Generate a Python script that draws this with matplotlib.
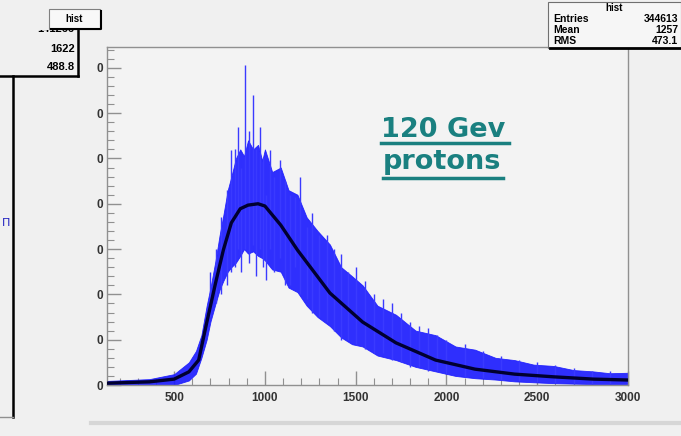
import matplotlib
matplotlib.use("Agg")
import matplotlib.pyplot as plt
from matplotlib.patches import Rectangle
from matplotlib.lines import Line2D
from matplotlib.ticker import MultipleLocator, FixedLocator, FixedFormatter

# ---- data (counts per bin, x = ADC) ----
fit_x = [130, 364, 500, 581, 635, 679, 728, 771, 815, 864, 907, 962, 1000,
         1087, 1179, 1358, 1538, 1722, 1940, 2157, 2375, 2592, 2809, 3000]
fit_y = [4, 7, 13, 29, 55, 137, 225, 298, 358, 389, 397, 400, 395,
         353, 298, 203, 139, 93, 55, 35, 24, 18, 13, 11]

band_x = [130, 364, 500, 581, 620, 650, 679, 700, 728, 750, 771, 795, 815,
          840, 864, 885, 907, 935, 962, 985, 1000, 1040, 1087, 1130, 1179,
          1230, 1290, 1358, 1420, 1480, 1538, 1620, 1722, 1830, 1940, 2050,
          2157, 2270, 2375, 2480, 2592, 2700, 2809, 2900, 3000]
band_hi = [9, 13, 24, 50, 75, 110, 175, 215, 275, 330, 375, 430, 460,
           500, 520, 505, 540, 520, 530, 495, 520, 470, 480, 430, 420,
           370, 340, 310, 260, 240, 220, 175, 155, 120, 110, 85,
           78, 60, 55, 45, 42, 33, 30, 26, 27]
band_lo = [0, 0, 0, 10, 25, 60, 100, 140, 180, 210, 230, 250, 260,
           270, 285, 300, 290, 295, 285, 280, 275, 255, 250, 215, 205,
           175, 150, 130, 105, 90, 85, 65, 55, 40, 30, 20,
           15, 12, 8, 6, 4, 3, 2, 2, 2]

spike_x  = [700, 730, 760, 790, 815, 837, 853, 870, 891, 910, 934, 950, 972,
            990, 1005, 1027, 1050, 1081, 1110, 1140, 1163, 1195, 1233, 1260,
            1300, 1340, 1380, 1420, 1460, 1500, 1550, 1600, 1650, 1700, 1750,
            1800, 1850, 1900, 1950, 2000, 2100, 2200, 2300, 2400, 2500, 2600,
            2700, 2800, 2900]
spike_lo = [150, 180, 200, 220, 250, 260, 300, 250, 300, 270, 310, 240, 300,
            260, 232, 300, 250, 280, 220, 220, 260, 200, 190, 160,
            150, 140, 120, 100, 100, 90, 80, 70, 70, 55, 50,
            40, 40, 30, 30, 25, 18, 15, 12, 8, 6, 4,
            3, 2, 2]
spike_hi = [250, 300, 370, 430, 519, 520, 570, 480, 706, 560, 640, 520, 570,
            500, 420, 519, 460, 497, 450, 420, 415, 459, 349, 380,
            330, 330, 300, 290, 250, 260, 230, 200, 190, 180, 160,
            140, 130, 125, 110, 100, 90, 75, 65, 55, 50, 45,
            38, 32, 30]

x_ticks = [500, 1000, 1500, 2000, 2500, 3000]
y_ticks = [0, 100, 200, 300, 400, 500, 600, 700]
y_labels = ["0"] * len(y_ticks)

stat_labels = ["Entries", "Mean", "RMS"]
stat_values = ["344613", "1257", "473.1"]
left_values = ["1622", "488.8"]

W, H = 681, 436
BG = "#f0f0f0"
fig = plt.figure(figsize=(W / 100, H / 100), dpi=100, facecolor=BG)

def fx(px):
    return px / W

def fy(py):
    return 1 - py / H

ax = fig.add_axes([fx(107), fy(385), fx(628) - fx(107), fy(47) - fy(385)])
ax.set_facecolor("#f3f3f3")
ax.set_xlim(130, 3000)
ax.set_ylim(0, 746)

ax.fill_between(band_x, band_lo, band_hi, color="#1a1aff", lw=0.6, alpha=0.9, zorder=2)
ax.vlines(spike_x, spike_lo, spike_hi, color="#3a3aff", lw=1.0, zorder=2)
ax.plot(fit_x, fit_y, color="#000030", lw=2.4, zorder=3)

for s in ax.spines.values():
    s.set_color("#909090")
    s.set_linewidth(1.0)

ax.xaxis.set_major_locator(FixedLocator(x_ticks))
ax.xaxis.set_minor_locator(MultipleLocator(100))
ax.yaxis.set_major_locator(FixedLocator(y_ticks))
ax.yaxis.set_major_formatter(FixedFormatter(y_labels))
ax.yaxis.set_minor_locator(MultipleLocator(20))
ax.tick_params(axis="both", which="both", direction="in", color="#909090")
ax.tick_params(axis="both", which="major", length=10, width=1.0)
ax.tick_params(axis="both", which="minor", length=5, width=0.8)
ax.tick_params(axis="x", which="major", labelsize=8.5, pad=5, labelcolor="#333333")
ax.tick_params(axis="y", which="major", labelsize=8.5, pad=3, labelcolor="#333333")
for lab in ax.get_xticklabels() + ax.get_yticklabels():
    lab.set_fontweight("bold")
    lab.set_family("Liberation Sans")

# ---- annotation text ----
teal = "#1a8080"
fig.text(fx(381), fy(137), "120 Gev", color=teal, fontsize=19.5, fontweight="bold",
         family="DejaVu Sans", ha="left", va="baseline")
fig.text(fx(383), fy(169), "protons", color=teal, fontsize=19.5, fontweight="bold",
         family="DejaVu Sans", ha="left", va="baseline")
fig.add_artist(Line2D([fx(381), fx(509)], [fy(143), fy(143)], color=teal, lw=2.5))
fig.add_artist(Line2D([fx(383), fx(503)], [fy(178), fy(178)], color=teal, lw=2.5))

# ---- right stat box ----
fig.add_artist(Rectangle((fx(548), fy(48)), fx(681) - fx(548), fy(2) - fy(48),
                         facecolor="#f6f6f6", edgecolor="#707070", lw=0.8, zorder=5))
fig.add_artist(Line2D([fx(550), fx(681)], [fy(48), fy(48)], color="black", lw=2, zorder=6))
fig.text(fx(614), fy(8), "hist", fontsize=7, fontweight="bold", ha="center", va="center",
         family="Liberation Sans", zorder=7)
for i, (lab, val) in enumerate(zip(stat_labels, stat_values)):
    yy = fy(19 + 11 * i)
    fig.text(fx(553), yy, lab, fontsize=7.5, fontweight="bold", ha="left", va="center",
             family="Liberation Sans", zorder=7)
    fig.text(fx(678), yy, val, fontsize=7.5, fontweight="bold", ha="right", va="center",
             family="Liberation Sans", zorder=7)

# ---- left partial panel ----
fig.text(fx(74), fy(29), "141266", fontsize=8, fontweight="bold", ha="right", va="center",
         family="Liberation Sans", zorder=7)
fig.add_artist(Rectangle((0, fy(30.5)), fx(78), 1 - fy(30.5), facecolor=BG, edgecolor="none", zorder=8))
fig.add_artist(Line2D([0, fx(78)], [fy(76), fy(76)], color="black", lw=1.8, zorder=6))
fig.add_artist(Line2D([fx(78), fx(78)], [fy(76), fy(30)], color="black", lw=1.8, zorder=6))
for i, val in enumerate(left_values):
    fig.text(fx(75), fy(49 + 18 * i), val, fontsize=8, fontweight="bold", ha="right",
             va="center", family="Liberation Sans", zorder=7)
fig.add_artist(Rectangle((fx(49), fy(29)), fx(100) - fx(49), fy(9) - fy(29),
                         facecolor="#f8f8f8", edgecolor="#808080", lw=0.8, zorder=9))
fig.add_artist(Line2D([fx(51), fx(101), fx(101)], [fy(29.5), fy(29.5), fy(11)],
                      color="black", lw=1.5, zorder=9))
fig.text(fx(74.5), fy(19), "hist", fontsize=7, fontweight="bold", ha="center", va="center",
         family="Liberation Sans", zorder=10)
fig.add_artist(Line2D([fx(12.5), fx(12.5)], [fy(76), fy(417)], color="black", lw=1.8))
fig.add_artist(Line2D([0, fx(12.5)], [fy(417), fy(417)], color="#909090", lw=1.0))
fig.text(fx(6), fy(223), "\u03a0", color="#2020c0", fontsize=8, ha="center", va="center")
fig.add_artist(Line2D([fx(91), 1], [fy(423), fy(423)], color="#d6d6d6", lw=3))

fig.savefig("out.png", dpi=100, facecolor=BG)
